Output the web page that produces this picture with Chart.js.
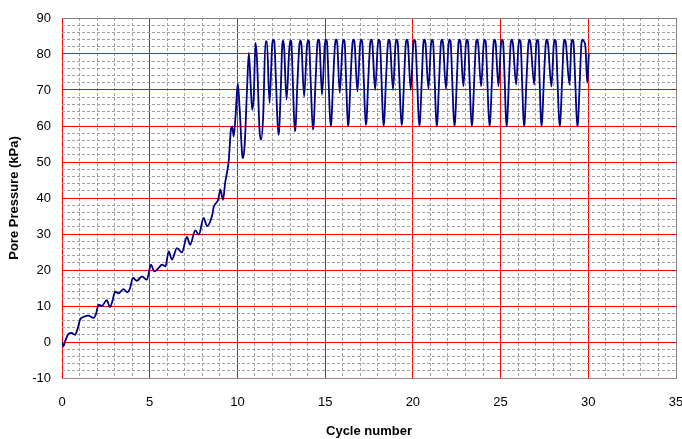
<!DOCTYPE html>
<html>
<head>
<meta charset="utf-8">
<script src="https://cdn.jsdelivr.net/npm/chart.js@4/dist/chart.umd.min.js"></script>
<style>
  html, body { margin: 0; padding: 0; background: #ffffff; }
  #wrap { width: 682px; height: 439px; }
</style>
</head>
<body>
<div id="wrap"><canvas id="chart" width="682" height="439"></canvas></div>
<script>
// Pore pressure build-up during cyclic loading
const cycleNumber = [
  0, 0.08, 0.2, 0.36, 0.55, 0.74, 0.88, 1.03, 1.25, 1.5, 1.8, 1.95,
  2.08, 2.27, 2.55, 2.74, 2.88, 3.03, 3.22, 3.5, 3.73, 3.88,
  4.04, 4.27, 4.55, 4.84, 5.07, 5.26, 5.5, 5.7, 5.9,
  6.08, 6.27, 6.55, 6.84, 7.12, 7.3, 7.6, 7.8,
  8.07, 8.27, 8.55, 8.65, 8.9, 9.03, 9.18, 9.3, 9.44, 9.5,
  9.64, 9.7, 9.79, 9.89, 10.02, 10.13, 10.27, 10.32, 10.42, 10.55, 10.65, 10.74, 10.84,
  10.93, 11.03, 11.11, 11.27, 11.35, 11.47, 11.6, 11.68, 11.83, 11.98, 12.04, 12.1, 12.2,
  12.33, 12.38, 12.47, 12.55, 12.6, 12.66, 12.8, 12.95, 13.01, 13.07, 13.16,
  13.27, 13.32, 13.42, 13.53, 13.59, 13.65, 13.8, 13.96, 14.02, 14.08, 14.18,
  14.3, 14.35, 14.45, 14.56, 14.62, 14.68, 14.82, 14.98, 15.04, 15.1, 15.2,
  15.31, 15.36, 15.46, 15.57, 15.63, 15.69, 15.83, 15.99, 16.05, 16.11, 16.2,
  16.3, 16.35, 16.45, 16.56, 16.62, 16.68, 16.84, 16.99, 17.05, 17.11, 17.21,
  17.31, 17.36, 17.46, 17.57, 17.63, 17.69, 17.85, 18.0, 18.06, 18.12, 18.22,
  18.32, 18.37, 18.47, 18.58, 18.64, 18.7, 18.87, 19.01, 19.07, 19.13, 19.24,
  19.35, 19.4, 19.5, 19.6, 19.66, 19.72, 19.88, 20.02, 20.08, 20.14, 20.25,
  20.36, 20.41, 20.51, 20.6, 20.66, 20.72, 20.89, 21.03, 21.09, 21.15, 21.25,
  21.35, 21.4, 21.5, 21.6, 21.66, 21.72, 21.89, 22.03, 22.09, 22.15, 22.25,
  22.36, 22.41, 22.51, 22.6, 22.66, 22.72, 22.88, 23.02, 23.08, 23.14, 23.24,
  23.35, 23.4, 23.5, 23.6, 23.66, 23.72, 23.89, 24.03, 24.09, 24.15, 24.25,
  24.36, 24.41, 24.51, 24.6, 24.66, 24.72, 24.88, 25.02, 25.08, 25.14, 25.24,
  25.33, 25.38, 25.48, 25.58, 25.64, 25.7, 25.89, 26.02, 26.08, 26.14, 26.23,
  26.33, 26.38, 26.48, 26.59, 26.65, 26.71, 26.92, 27.03, 27.09, 27.15, 27.23,
  27.32, 27.37, 27.47, 27.58, 27.64, 27.7, 27.9, 28.03, 28.09, 28.15, 28.25,
  28.36, 28.41, 28.51, 28.6, 28.66, 28.72, 28.93, 29.03, 29.09, 29.15, 29.26,
  29.37, 29.42, 29.52, 29.61, 29.67, 29.75, 29.84, 29.94, 30.03
];

const porePressure = [
  0, -1.2, 0.5, 2.2, 2.5, 2.0, 3.5, 6.2, 7.0, 7.3, 6.7, 8.0,
  10.4, 10.0, 11.6, 9.7, 11.5, 14.0, 13.5, 14.7, 13.8, 15.0,
  17.8, 17.0, 18.2, 17.3, 21.5, 19.6, 20.5, 21.5, 21.0,
  25.2, 22.9, 26.1, 24.9, 29.2, 27.0, 31.0, 29.8,
  34.5, 32.2, 35.0, 37.5, 39.5, 42.3, 39.5, 44.2, 48.0, 50.1,
  59.4, 59.9, 57.1, 62.5, 71.8, 64.5, 52.0, 51.1, 55.3, 70.6, 80.3, 72.9, 64.5,
  68.0, 83.1, 79.0, 58.0, 56.2, 63.0, 83.5, 83.5, 66.4, 82.5, 84.0, 83.5, 72.0,
  57.6, 59.0, 70.0, 82.0, 83.8, 82.0, 67.3, 81.0, 83.8, 83.5, 72.0,
  58.5, 60.0, 72.0, 82.5, 83.8, 82.5, 68.2, 82.0, 83.8, 83.5, 72.0,
  59.0, 60.5, 72.0, 83.0, 84.0, 83.0, 68.7, 82.5, 84.0, 83.5, 72.0,
  59.9, 61.5, 73.0, 83.0, 84.0, 83.0, 69.2, 82.5, 84.0, 83.5, 72.0,
  59.9, 61.5, 73.0, 83.0, 84.0, 83.0, 69.6, 82.5, 84.0, 83.5, 72.0,
  60.3, 61.5, 73.0, 83.0, 84.0, 83.0, 70.0, 82.5, 84.0, 83.5, 72.0,
  60.1, 61.5, 73.0, 83.0, 84.0, 83.0, 70.0, 82.5, 84.0, 83.5, 72.0,
  60.3, 61.5, 73.0, 83.0, 84.0, 83.0, 70.0, 82.5, 84.0, 83.5, 72.0,
  60.1, 61.5, 73.0, 83.0, 84.0, 83.0, 70.3, 82.5, 84.0, 83.5, 72.0,
  59.9, 61.5, 73.0, 83.0, 84.0, 83.0, 70.3, 82.5, 84.0, 83.5, 72.0,
  60.0, 61.5, 73.0, 83.0, 84.0, 83.0, 71.0, 82.5, 84.0, 83.5, 72.0,
  60.0, 61.5, 73.0, 83.0, 84.0, 83.0, 71.0, 82.5, 84.0, 83.5, 72.0,
  60.0, 61.5, 73.0, 83.0, 84.0, 83.0, 71.0, 82.5, 84.0, 83.5, 72.0,
  59.9, 61.5, 73.0, 83.0, 84.0, 83.0, 71.5, 82.5, 84.0, 83.5, 72.0,
  59.9, 61.5, 73.0, 83.0, 84.0, 83.0, 71.5, 82.5, 84.0, 83.5, 72.0,
  60.0, 61.5, 73.0, 83.0, 84.0, 83.0, 71.0, 82.5, 84.0, 83.5, 72.0,
  59.9, 61.5, 73.0, 83.0, 84.0, 83.0, 71.5, 82.5, 84.0, 83.5, 72.0,
  59.9, 61.5, 73.0, 83.0, 84.0, 83.5, 82.0, 72.0, 80.0
];

// Axis ranges and tick spacing
const xRange = [0, 35];
const yRange = [-10, 90];
const xMinorStep = 1;
const xLabelEvery = 5;
const yMinorStep = 2;
const yLabelEvery = 10;

const points = cycleNumber.map((x, i) => ({ x: x, y: porePressure[i] }));

const FONT = "'Liberation Sans', Arial, Helvetica, sans-serif";
const MAJOR = '#ff0000';
const MINOR = '#a0a0a0';
const FRAME = '#808080';

const whiteBackground = {
  id: 'whiteBackground',
  beforeDraw(chart) {
    const c = chart.ctx;
    c.save();
    c.fillStyle = '#ffffff';
    c.fillRect(0, 0, chart.width, chart.height);
    c.restore();
  }
};

new Chart(document.getElementById('chart'), {
  type: 'line',
  data: {
    datasets: [{
      data: points,
      borderColor: '#000080',
      borderWidth: 1.8,
      pointRadius: 0,
      fill: false,
      cubicInterpolationMode: 'monotone'
    }]
  },
  options: {
    responsive: false,
    animation: false,
    layout: { padding: { top: 18, right: 6, left: 0, bottom: 0 } },
    plugins: { legend: { display: false }, tooltip: { enabled: false } },
    scales: {
      x: {
        type: 'linear',
        min: xRange[0],
        max: xRange[1],
        ticks: {
          stepSize: xMinorStep,
          autoSkip: false,
          maxRotation: 0,
          padding: 17,
          color: '#000000',
          font: { family: FONT, size: 13 },
          callback: v => (v % xLabelEvery === 0 ? String(v) : '')
        },
        grid: {
          drawTicks: false,
          lineWidth: 1,
          color: ctx => {
            const v = ctx.tick ? ctx.tick.value : null;
            if (v === xRange[1]) return FRAME;
            return v % xLabelEvery === 0 ? MAJOR : MINOR;
          }
        },
        border: {
          display: true,
          color: '#a08080',
          width: 1,
          dash: ctx => (ctx.tick && ctx.tick.value % xLabelEvery !== 0 ? [3, 2] : [])
        },
        title: {
          display: true,
          text: 'Cycle number',
          color: '#000000',
          font: { family: FONT, size: 13, weight: 'bold' },
          padding: { top: 0, bottom: 0 }
        },
        afterFit: s => { s.height = 61; s.paddingLeft = 0; s.paddingRight = 0; }
      },
      y: {
        type: 'linear',
        min: yRange[0],
        max: yRange[1],
        ticks: {
          stepSize: yMinorStep,
          autoSkip: false,
          padding: 11,
          color: '#000000',
          font: { family: FONT, size: 13 },
          callback: v => (v % yLabelEvery === 0 ? String(v) : '')
        },
        grid: {
          drawTicks: false,
          lineWidth: 1,
          color: ctx => {
            const v = ctx.tick ? ctx.tick.value : null;
            if (v === yRange[1]) return FRAME;
            return v % yLabelEvery === 0 ? MAJOR : MINOR;
          }
        },
        border: {
          display: false,
          dash: ctx => (ctx.tick && ctx.tick.value % yLabelEvery !== 0 ? [3, 2] : [])
        },
        title: {
          display: true,
          text: 'Pore Pressure (kPa)',
          color: '#000000',
          font: { family: FONT, size: 13, weight: 'bold' },
          padding: { top: 7, bottom: 0 }
        },
        afterFit: s => { s.width = 62; s.paddingTop = 0; s.paddingBottom = 0; }
      }
    }
  },
  plugins: [whiteBackground]
});
</script>
</body>
</html>
